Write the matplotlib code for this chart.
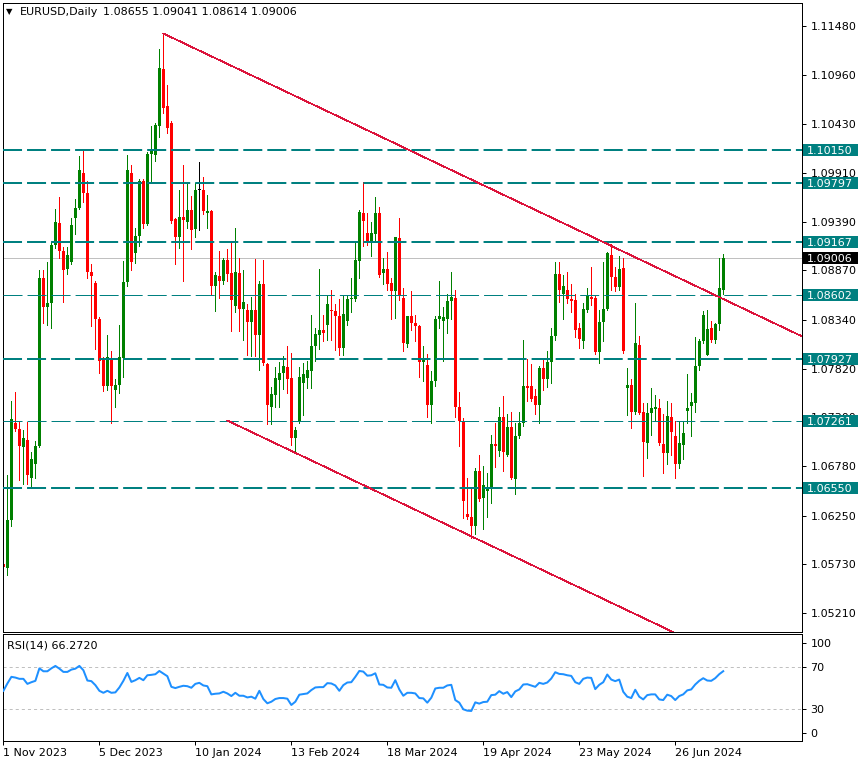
import numpy as np
import matplotlib.pyplot as plt
import matplotlib.transforms as mtransforms
from matplotlib.patches import Rectangle

plt.rcParams['font.family'] = ['DejaVu Sans']
plt.rcParams['lines.scale_dashes'] = False

# EURUSD daily bars, 1 Nov 2023 .. 12 Jul 2024, prices in pips (x 1e-4)
opens = [10573, 10569, 10620, 10724, 10718, 10698, 10706, 10665, 10680, 10699,
         10879, 10848, 10852, 10914, 10937, 10908, 10888, 10896, 10943, 10954,
         10991, 10969, 10885, 10873, 10835, 10791, 10763, 10793, 10759, 10764,
         10793, 10874, 10991, 10905, 10924, 10982, 10936, 11011, 11010, 11041,
         11102, 11062, 11044, 10942, 10922, 10944, 10939, 10951, 10931, 10973,
         10973, 10948, 10950, 10870, 10881, 10876, 10898, 10884, 10849, 10884,
         10846, 10845, 10832, 10845, 10818, 10872, 10787, 10741, 10754, 10770,
         10777, 10784, 10772, 10708, 10726, 10767, 10772, 10779, 10806, 10818,
         10823, 10829, 10845, 10843, 10838, 10804, 10833, 10856, 10856, 10897,
         10948, 10927, 10918, 10926, 10948, 10884, 10888, 10873, 10865, 10921,
         10857, 10808, 10838, 10831, 10827, 10789, 10786, 10743, 10769, 10835,
         10833, 10835, 10854, 10857, 10741, 10726, 10627, 10624, 10614, 10673,
         10644, 10651, 10654, 10701, 10694, 10730, 10690, 10720, 10664, 10710,
         10724, 10763, 10763, 10753, 10743, 10783, 10771, 10789, 10817, 10883,
         10862, 10866, 10856, 10855, 10825, 10811, 10845, 10858, 10857, 10800,
         10832, 10846, 10903, 10880, 10869, 10889, 10761, 10765, 10736, 10807,
         10736, 10702, 10735, 10739, 10740, 10701, 10692, 10730, 10710, 10680,
         10700, 10737, 10742, 10745, 10785, 10811, 10797, 10825, 10812, 10830,
         10865.5]
highs = [10581, 10668, 10747, 10757, 10726, 10716, 10725, 10693, 10705, 10887,
         10887, 10896, 10917, 10952, 10965, 10912, 10912, 10943, 10963, 11009,
         11017, 10982, 10894, 10875, 10837, 10794, 10818, 10801, 10771, 10829,
         10897, 11010, 10999, 10932, 10984, 10984, 11013, 11041, 11044, 11123,
         11140, 11085, 11046, 10943, 10973, 10999, 10980, 10966, 10980, 11003,
         10987, 10967, 10951, 10885, 10908, 10900, 10910, 10916, 10932, 10900,
         10887, 10851, 10858, 10899, 10876, 10898, 10788, 10762, 10784, 10789,
         10795, 10806, 10799, 10720, 10784, 10788, 10790, 10839, 10825, 10888,
         10839, 10859, 10866, 10851, 10856, 10859, 10859, 10879, 10917, 10951,
         10981, 10948, 10939, 10965, 10955, 10900, 10907, 10879, 10922, 10943,
         10868, 10838, 10865, 10839, 10829, 10806, 10798, 10779, 10838, 10876,
         10848, 10862, 10885, 10866, 10757, 10729, 10665, 10654, 10676, 10690,
         10678, 10671, 10711, 10724, 10741, 10753, 10734, 10736, 10724, 10736,
         10812, 10792, 10787, 10760, 10785, 10792, 10801, 10825, 10896, 10896,
         10882, 10885, 10872, 10862, 10831, 10852, 10868, 10890, 10859, 10845,
         10896, 10907, 10915, 10891, 10902, 10900, 10783, 10771, 10852, 10817,
         10745, 10745, 10761, 10754, 10749, 10733, 10747, 10745, 10726, 10726,
         10726, 10776, 10756, 10816, 10814, 10843, 10845, 10833, 10831, 10900,
         10904.1]
lows = [10517, 10562, 10614, 10715, 10663, 10659, 10659, 10655, 10665, 10698,
        10831, 10829, 10825, 10911, 10900, 10853, 10883, 10894, 10926, 10952,
        10960, 10879, 10828, 10803, 10777, 10758, 10759, 10724, 10741, 10756,
        10773, 10870, 10887, 10895, 10913, 10932, 10935, 10981, 11004, 11029,
        11055, 11034, 10937, 10894, 10911, 10876, 10932, 10910, 10922, 10930,
        10947, 10932, 10861, 10844, 10857, 10872, 10876, 10822, 10842, 10822,
        10813, 10796, 10795, 10795, 10780, 10786, 10723, 10723, 10741, 10741,
        10760, 10756, 10700, 10694, 10724, 10732, 10761, 10761, 10790, 10803,
        10811, 10812, 10813, 10802, 10797, 10796, 10829, 10842, 10854, 10879,
        10913, 10914, 10902, 10919, 10880, 10872, 10866, 10835, 10836, 10855,
        10801, 10805, 10823, 10811, 10773, 10769, 10730, 10724, 10763, 10825,
        10790, 10820, 10835, 10730, 10699, 10622, 10621, 10601, 10605, 10641,
        10611, 10624, 10638, 10677, 10689, 10673, 10689, 10664, 10648, 10708,
        10721, 10747, 10747, 10733, 10724, 10759, 10762, 10767, 10812, 10853,
        10835, 10852, 10842, 10816, 10804, 10804, 10842, 10850, 10798, 10788,
        10811, 10845, 10866, 10865, 10866, 10799, 10732, 10719, 10734, 10733,
        10667, 10686, 10711, 10726, 10700, 10671, 10680, 10690, 10665, 10676,
        10685, 10724, 10710, 10736, 10780, 10809, 10796, 10810, 10809, 10823,
        10861.4]
closes = [10570, 10620, 10728, 10717, 10699, 10708, 10668, 10685, 10699, 10879,
          10848, 10852, 10914, 10939, 10908, 10887, 10903, 10935, 10954, 10994,
          10969, 10885, 10881, 10835, 10790, 10763, 10794, 10763, 10764, 10794,
          10874, 10994, 10896, 10924, 10982, 10936, 11011, 11014, 11042, 11103,
          11060, 11039, 10940, 10922, 10944, 10941, 10951, 10930, 10973, 10973,
          10950, 10950, 10870, 10882, 10876, 10898, 10883, 10855, 10885, 10846,
          10853, 10832, 10845, 10818, 10872, 10788, 10743, 10755, 10772, 10777,
          10785, 10771, 10708, 10716, 10773, 10776, 10780, 10806, 10819, 10823,
          10820, 10851, 10843, 10838, 10804, 10840, 10856, 10857, 10898, 10949,
          10940, 10918, 10927, 10948, 10882, 10888, 10872, 10865, 10922, 10861,
          10809, 10838, 10831, 10827, 10789, 10793, 10743, 10769, 10835, 10838,
          10837, 10854, 10858, 10741, 10726, 10641, 10624, 10614, 10673, 10643,
          10658, 10654, 10701, 10699, 10730, 10693, 10720, 10665, 10710, 10724,
          10763, 10761, 10749, 10743, 10783, 10771, 10789, 10817, 10883, 10866,
          10870, 10856, 10854, 10823, 10814, 10846, 10859, 10856, 10800, 10832,
          10846, 10905, 10880, 10869, 10888, 10801, 10765, 10736, 10809, 10735,
          10704, 10735, 10740, 10741, 10702, 10692, 10731, 10714, 10680, 10703,
          10713, 10740, 10746, 10785, 10811, 10839, 10824, 10812, 10830, 10868,
          10900.6]
rsi = [47.6, 54.6, 60.9, 60.2, 59.0, 59.0, 54.2, 55.8, 57.1, 69.0,
       66.2, 66.2, 69.0, 71.3, 68.7, 65.6, 65.6, 67.8, 68.7, 71.3,
       67.2, 57.4, 56.8, 53.0, 47.6, 45.7, 47.6, 45.7, 46.1, 50.8,
       57.1, 64.6, 56.1, 57.7, 59.9, 57.7, 62.4, 62.8, 63.4, 66.5,
       64.0, 61.5, 51.4, 50.2, 51.4, 52.4, 52.0, 50.5, 54.2, 55.2,
       52.7, 52.0, 44.2, 44.8, 45.1, 46.7, 45.1, 42.6, 45.7, 42.9,
       42.9, 41.3, 42.0, 40.1, 47.6, 39.8, 35.7, 37.2, 39.8, 40.7,
       40.7, 40.1, 34.1, 37.2, 43.9, 44.5, 45.1, 48.3, 50.8, 51.1,
       51.1, 54.9, 54.6, 52.7, 47.6, 53.0, 55.5, 55.8, 60.9, 66.5,
       65.9, 62.0, 62.4, 64.3, 53.6, 53.3, 50.8, 50.5, 57.7, 48.9,
       42.9, 45.7, 45.7, 45.1, 40.7, 40.4, 36.3, 41.0, 49.8, 50.5,
       50.5, 52.7, 53.3, 38.8, 36.3, 30.0, 28.7, 28.4, 36.6, 35.4,
       36.9, 37.2, 43.5, 43.9, 47.3, 44.8, 46.4, 41.6, 47.0, 48.9,
       53.6, 53.9, 52.7, 51.4, 55.2, 54.2, 55.5, 59.3, 65.3, 63.7,
       63.4, 62.4, 61.8, 55.8, 54.2, 59.0, 60.2, 59.9, 49.2, 53.3,
       55.8, 63.1, 58.3, 56.8, 58.3, 46.7, 42.0, 40.7, 48.6, 42.0,
       39.4, 43.5, 44.2, 44.2, 39.4, 38.8, 43.9, 42.6, 38.8, 42.6,
       44.2, 48.0, 48.9, 53.6, 57.1, 59.6, 57.4, 57.1, 59.6, 63.4,
       66.27]

date_ticks = [0, 24, 48, 72, 96, 120, 144, 168]
date_labels = ['1 Nov 2023', '5 Dec 2023', '10 Jan 2024', '13 Feb 2024',
               '18 Mar 2024', '19 Apr 2024', '23 May 2024', '26 Jun 2024']
price_ticks = [1.11480, 1.10960, 1.10430, 1.09910, 1.09390, 1.08870, 1.08340,
               1.07820, 1.07300, 1.06780, 1.06250, 1.05730, 1.05210]
levels = [1.10150, 1.09797, 1.09167, 1.08602, 1.07927, 1.07261, 1.06550]
level_px = [2, 2, 2, 1, 2, 1, 2]
last_price = 1.09006
# trend lines, (bar, price) anchors
upper_line = [(40, 1.11398), (152, 1.09130)]
lower_line = [(56, 1.07265), (117, 1.06029)]

o = np.array(opens) / 1e4
h = np.array(highs) / 1e4
l = np.array(lows) / 1e4
c = np.array(closes) / 1e4
idx = np.arange(len(c))

W, H = 865, 765
fig = plt.figure(figsize=(W / 100, H / 100), dpi=100)


def px_box(x0, y0, x1, y1):
    return [x0 / W, 1 - y1 / H, (x1 - x0) / W, (y1 - y0) / H]


ax = fig.add_axes(px_box(3, 3, 802, 632))
ax2 = fig.add_axes(px_box(3, 634, 802, 741))
PX = 0.72  # one pixel in points

y0, y1 = 1.05007, 1.11724
ax.set_xlim(-0.1, 199.7)
ax.set_ylim(y0, y1)

# candles
col = np.where(c > o, '#008000', np.where(c < o, '#ff0000', '#000000'))
ax.vlines(idx, l, h, colors=col, lw=PX, zorder=2, antialiased=False)
ax.bar(idx, np.maximum(np.abs(c - o), 0.00011), bottom=np.minimum(o, c),
       width=0.72, color=col, zorder=2.1, antialiased=False)

# levels
ax.axhline(last_price, color='#c0c0c0', lw=PX, zorder=1.5)
for lev, w in zip(levels, level_px):
    ax.axhline(lev, color='#008080', lw=w * PX, dashes=(13.7, 3.6), zorder=3)

for (xa, ya), (xb, yb) in (upper_line, lower_line):
    k = (yb - ya) / (xb - xa)
    ax.plot([xa, 205], [ya, ya + k * (205 - xa)], color='#dc143c', lw=0.55,
            zorder=3, antialiased=False)

ax.set_xticks([])
ax.yaxis.tick_right()
ax.set_yticks(price_ticks)
ax.set_yticklabels([f'{p:.5f}' for p in price_ticks])
ax.tick_params(axis='y', direction='out', length=3, width=PX, pad=3,
               labelsize=8, colors='black')
for s in ax.spines.values():
    s.set_linewidth(PX)

# price boxes on the right scale
trans = mtransforms.blended_transform_factory(ax.transAxes, ax.transData)
bw = 55 / 799
bh = 12 * (y1 - y0) / 629
for lev, fc in list(zip(levels, ['#008080'] * len(levels))) + [(last_price, '#000000')]:
    ax.add_patch(Rectangle((1 + 1 / 799, lev - bh / 2), bw, bh, transform=trans,
                           fc=fc, ec='none', clip_on=False, zorder=5))
    ax.text(1 + 5 / 799, lev, f'{lev:.5f}', transform=trans, color='white',
            fontsize=8, va='center_baseline', ha='left', clip_on=False, zorder=6)

# RSI pane
ax2.set_xlim(-0.1, 199.7)
ax2.set_ylim(-0.2, 101.7)
ax2.plot(idx, rsi, color='#1e90ff', lw=2 * PX, zorder=3)
for lv in (70, 30):
    ax2.axhline(lv, color='#c0c0c0', lw=PX, dashes=(2.2, 2.2), zorder=1)
ax2.yaxis.tick_right()
ax2.set_yticks([93.1, 70, 30, 7.4])
ax2.set_yticklabels(['100', '70', '30', '0'])
ax2.tick_params(axis='y', direction='out', length=3, width=PX, pad=3, labelsize=8)
ax2.set_xticks(date_ticks)
ax2.set_xticklabels(date_labels, ha='left')
ax2.tick_params(axis='x', direction='out', length=3, width=PX, pad=2, labelsize=8)
for s in ax2.spines.values():
    s.set_linewidth(PX)

fig.text(7 / W, 1 - 646 / H, 'RSI(14) 66.2720', fontsize=8, va='center', ha='left')
fig.text(6 / W, 1 - 12 / H, '\u25bc', fontsize=6, va='center', ha='left')
fig.text(20 / W, 1 - 12 / H, 'EURUSD,Daily', fontsize=8, va='center', ha='left')
fig.text(103 / W, 1 - 12 / H, '1.08655 1.09041 1.08614 1.09006', fontsize=8,
         va='center', ha='left')

fig.savefig('out.png', dpi=100)
